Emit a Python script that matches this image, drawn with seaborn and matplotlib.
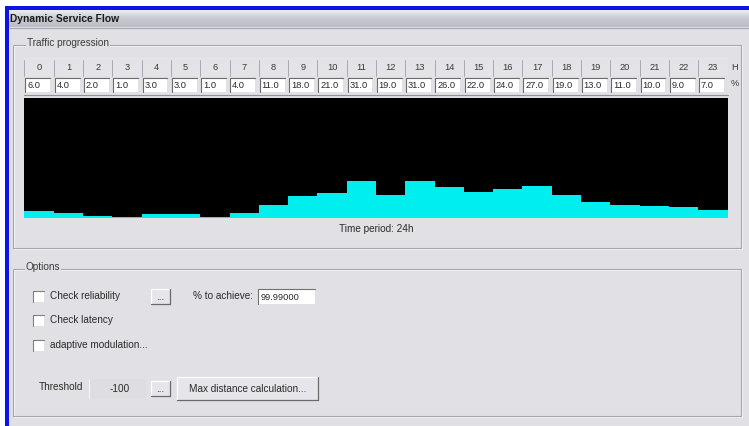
import numpy as np
import pandas as pd
import matplotlib
matplotlib.use("Agg")
import matplotlib.pyplot as plt
import matplotlib.transforms as mtransforms
from matplotlib.patches import Rectangle
import seaborn as sns

# ---- data ----
hours = list(range(24))
traffic_pct = [6.0, 4.0, 2.0, 1.0, 3.0, 3.0, 1.0, 4.0, 11.0, 18.0, 21.0, 31.0,
               19.0, 31.0, 26.0, 22.0, 24.0, 27.0, 19.0, 13.0, 11.0, 10.0, 9.0, 7.0]
hour_labels = [str(h) for h in hours]
value_labels = [f"{v:.1f}" for v in traffic_pct]

title = "Dynamic Service Flow"
group1 = "Traffic progression"
xlabel = "Time period: 24h"
group2 = "Options"

W, H = 749, 426
BG = "#e1e0e5"
FONT = "Liberation Sans"
FS = 7.2
FSH = 6.7

sns.set_theme(style="white")
plt.rcParams["font.family"] = [FONT, "DejaVu Sans"]

fig = plt.figure(figsize=(W / 100, H / 100), dpi=100)
fig.patch.set_facecolor(BG)


def fy(py):
    return 1 - py / H


def fx(px):
    return px / W


def frect(x0, y0, x1, y1, **kw):
    fig.patches.append(Rectangle((fx(x0), fy(y1)), fx(x1) - fx(x0), fy(y0) - fy(y1),
                                 transform=fig.transFigure, figure=fig, **kw))


def fline(x0, y0, x1, y1, **kw):
    fig.lines.append(matplotlib.lines.Line2D([fx(x0), fx(x1)], [fy(y0), fy(y1)],
                                             transform=fig.transFigure, figure=fig, **kw))


def ftext(px, py, s, **kw):
    kw.setdefault("fontsize", FS)
    kw.setdefault("color", "#2a2a2a")
    kw.setdefault("va", "center")
    fig.text(fx(px), fy(py), s, **kw)


# window border (blue)
frect(5, 6, W + 2, 9.5, facecolor="#0a14e6", edgecolor="none", zorder=5)
frect(5, 6, 8.5, H + 2, facecolor="#0a14e6", edgecolor="none", zorder=5)
# white margin above/left
frect(0, 0, W, 6, facecolor="white", edgecolor="none", zorder=4)
frect(0, 0, 5, H, facecolor="white", edgecolor="none", zorder=4)

# title bar gradient
tax = fig.add_axes([fx(8.5), fy(27), fx(W) - fx(8.5), fy(9.5) - fy(27)])
grad = np.linspace(0, 1, 50)[:, None]
tax.imshow(grad, aspect="auto", cmap=matplotlib.colors.LinearSegmentedColormap.from_list(
    "tb", ["#f2f2f6", "#c9c9d2", "#bdbdc7"]), extent=[0, 1, 0, 1])
tax.set_axis_off()
ftext(10, 18.5, title, fontsize=7.4, fontweight="bold", color="#1a1a1a")
fline(8.5, 27.5, W, 27.5, color="#a9a9b3", lw=0.8)

# group boxes
for (y0, y1, label, lx) in [(45, 248, group1, 27), (269, 416, group2, 26)]:
    frect(13, y0, 741, y1, facecolor="none", edgecolor="#a5a5ad", lw=0.8, zorder=2)
    frect(14, y0 + 1, 742, y1 + 1, facecolor="none", edgecolor="#f8f8fa", lw=0.6, zorder=1)
    ftext(lx, y0 - 2, label, fontsize=FS, color="#3a3a3a",
          bbox=dict(facecolor=BG, edgecolor="none", pad=0.6), zorder=3)

# ---- traffic chart ----
ax = fig.add_axes([fx(24.5), fy(218), fx(727.5) - fx(24.5), fy(98) - fy(218)])
df = pd.DataFrame({"hour": hour_labels, "traffic": traffic_pct})
sns.barplot(data=df, x="hour", y="traffic", order=hour_labels, color="#00eeee",
            width=1.0, saturation=1, edgecolor="none", linewidth=0, ax=ax)
ax.set_facecolor("black")
ax.set_ylim(0, 100)
ax.set_xlim(-0.5, 23.5)
ax.set_xticks([])
ax.set_yticks([])
ax.set_xlabel("")
ax.set_ylabel("")
for s in ax.spines.values():
    s.set_visible(False)

# header row aligned on the hour scale
bt = mtransforms.blended_transform_factory(ax.transData, fig.transFigure)
frect(24.5, 57, 727.5, 76, facecolor="#e4e3e8", edgecolor="none", zorder=0)
for i, h in enumerate(hour_labels):
    fig.text(i, fy(67.5), h, transform=bt, ha="center", va="center",
             fontsize=FSH, color="#3a3a3a")
    # separators
    fig.lines.append(matplotlib.lines.Line2D([i - 0.5, i - 0.5], [fy(60), fy(76)],
                                             transform=bt, color="#a8a8b0", lw=0.7))
    # value boxes
    fig.patches.append(Rectangle((i - 0.47, fy(92)), 0.85, fy(78) - fy(92),
                                 transform=bt, facecolor="white", edgecolor="none"))
    fig.lines.append(matplotlib.lines.Line2D([i - 0.47, i - 0.47, i + 0.38],
                                             [fy(92), fy(78), fy(78)],
                                             transform=bt, color="#6a6a6a", lw=0.8))
    fig.text(i - 0.41, fy(85.5), value_labels[i], transform=bt, ha="left", va="center",
             fontsize=FSH, color="#2a2a2a")
fig.text(23.62, fy(67.5), "H", transform=bt, ha="left", va="center", fontsize=FSH, color="#3a3a3a")
fig.text(23.62, fy(84), "%", transform=bt, ha="left", va="center", fontsize=FSH, color="#3a3a3a")
fline(24.5, 95, 727.5, 95, color="#909098", lw=0.8)

ftext(376, 229, xlabel, ha="center", fontsize=FS)


# ---- options ----
def checkbox(x, y):
    frect(x, y - 5.5, x + 11, y + 5.5, facecolor="white", edgecolor="none")
    fline(x, y + 5.5, x, y - 5.5, color="#808080", lw=0.8)
    fline(x, y - 5.5, x + 11, y - 5.5, color="#808080", lw=0.8)


def button(x0, y0, x1, y1, label=""):
    frect(x0, y0, x1, y1, facecolor="#e6e5ea", edgecolor="none")
    fline(x0, y1, x0, y0, color="white", lw=0.9)
    fline(x0, y0, x1, y0, color="white", lw=0.9)
    fline(x0, y1, x1, y1, color="#6a6a6a", lw=0.9)
    fline(x1, y1, x1, y0, color="#6a6a6a", lw=0.9)
    if label:
        ftext((x0 + x1) / 2, (y0 + y1) / 2, label, ha="center")


checkbox(33, 296)
ftext(50, 296, "Check reliability")
button(151, 289, 170, 304, "...")
ftext(193, 296, "% to achieve:")
frect(258, 289, 315, 304, facecolor="white", edgecolor="none")
fline(258, 304, 258, 289, color="#707070", lw=0.8)
fline(258, 289, 315, 289, color="#707070", lw=0.8)
ftext(261, 297, "99.99000", fontsize=FSH)

checkbox(33, 320)
ftext(50, 320, "Check latency")
checkbox(33, 345)
ftext(50, 345, "adaptive modulation...")

ftext(39, 387, "Threshold")
frect(89, 379, 146, 398, facecolor="#dedde2", edgecolor="none")
fline(89, 398, 89, 379, color="#f4f4f6", lw=0.8)
ftext(120, 389, "-100", ha="center")
button(151, 381, 170, 396, "...")
button(177, 377, 318, 400, "Max distance calculation...")

fig.savefig("out.png", dpi=100, facecolor=BG)
